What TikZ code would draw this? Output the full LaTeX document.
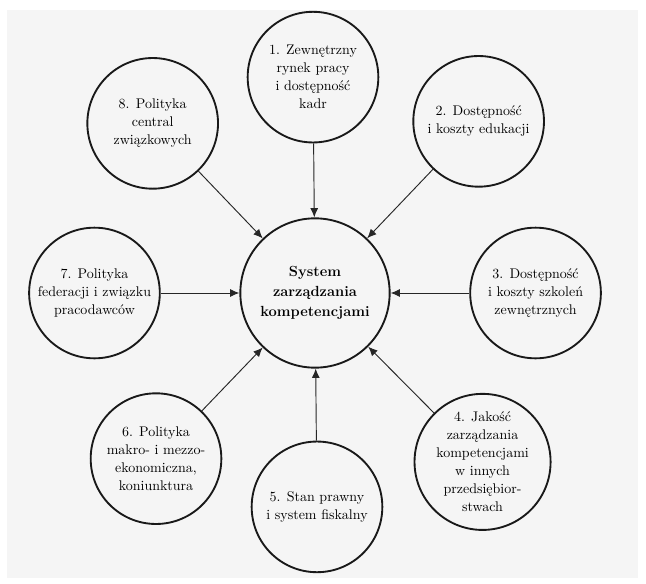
\documentclass[tikz,border=0pt]{standalone}
\usetikzlibrary{shapes.geometric, arrows.meta, positioning}

\begin{document}
\begin{tikzpicture}[
  every node/.style={font=\fontsize{10.5}{13.5}\selectfont},
  factor/.style={circle, draw=black!90, line width=1.4pt, minimum size=98pt, inner sep=0pt, align=center},
  hub/.style={factor, minimum size=112pt, font=\fontsize{11}{15}\selectfont\bfseries},
  arr/.style={-{Latex[length=7pt,width=6pt]}, line width=0.7pt, black!85},
]
% page and scanned paper
\useasboundingbox (-236.25pt,-217.5pt) rectangle (248.25pt,219.75pt);
\fill[black!4] (-231pt,-213.75pt) rectangle (242.25pt,212.25pt);

% Central system
\node[hub] (sys) at (0,0) {System\\zarządzania\\kompetencjami};

% Surrounding factors
\node[factor, above=55.5pt of sys, xshift=-1.5pt] (f1) {1. Zewnętrzny\\rynek pracy\\i dostępność\\kadr};
\node[factor, above right=53.5pt and 47.5pt of sys] (f2) {2. Dostępność\\i koszty edukacji};
\node[factor, right=59pt of sys] (f3) {3. Dostępność\\i koszty szkoleń\\zewnętrznych};
\node[factor, below right=50pt and 49pt of sys] (f4) {4. Jakość\\zarządzania\\kompetencjami\\w innych\\przedsiębior-\\stwach};
\node[factor, below=54pt of sys, xshift=1.5pt] (f5) {5. Stan prawny\\i system fiskalny};
\node[factor, below left=49pt and 44pt of sys] (f6) {6. Polityka\\makro- i mezzo-\\ekonomiczna,\\koniunktura};
\node[factor, left=59pt of sys] (f7) {7. Polityka\\federacji i związku\\pracodawców};
\node[factor, above left=52pt and 46.5pt of sys] (f8) {8. Polityka\\central\\związkowych};

% Arrows into the system
\draw[arr] (f1) -- (sys);
\draw[arr] (f2) -- (sys);
\draw[arr] (f3) -- (sys);
\draw[arr] (f4) -- (sys);
\draw[arr] (f5) -- (sys);
\draw[arr] (f6) -- (sys);
\draw[arr] (f7) -- (sys);
\draw[arr] (f8) -- (sys);
\end{tikzpicture}
\end{document}
